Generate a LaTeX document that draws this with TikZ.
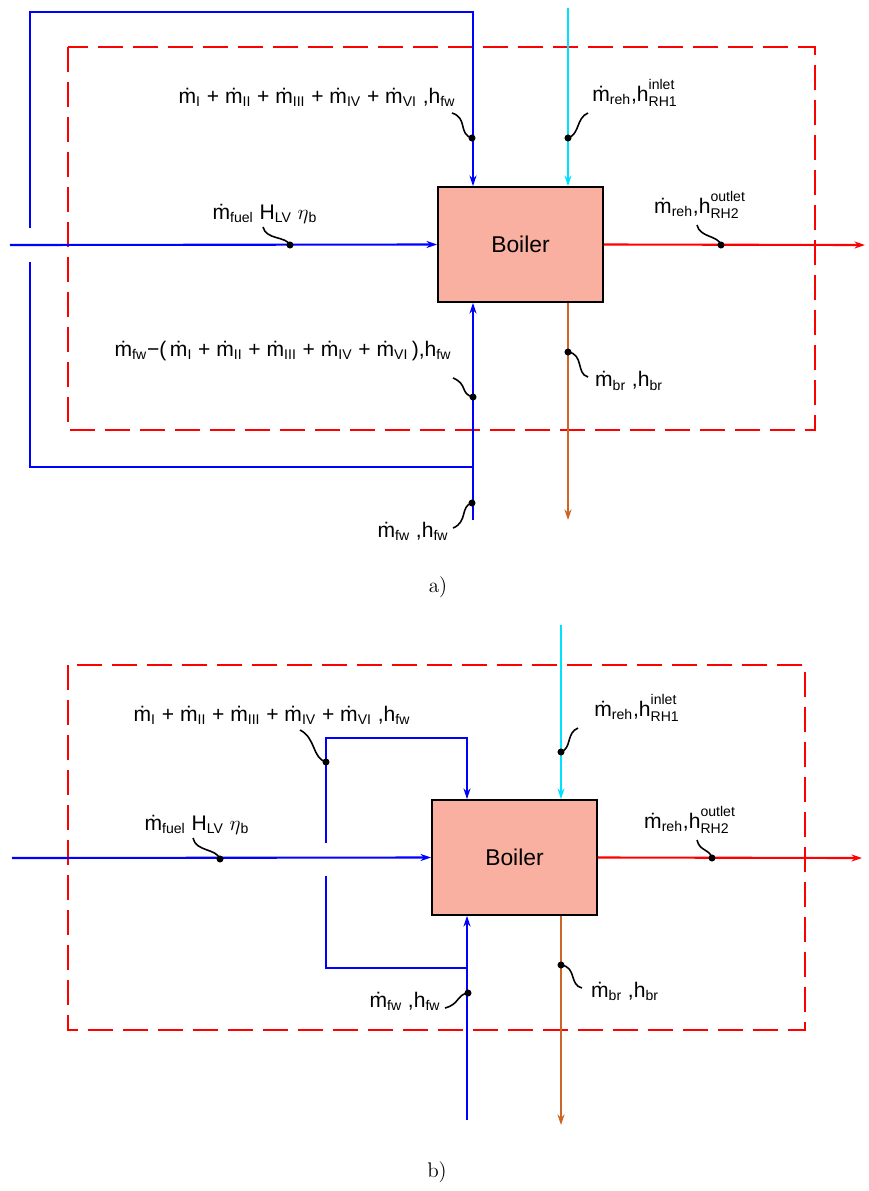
\documentclass[tikz,border=0pt]{standalone}
\usepackage{fontspec}
\usetikzlibrary{arrows.meta}
\newfontfamily\lblfont{Liberation Sans}
\newcommand\lowi[1]{\ensuremath{_{\mbox{\fontsize{8}{9}\selectfont #1}}}}
\newcommand\lowhi[2]{\ensuremath{^{\raisebox{2pt}{\fontsize{8}{9}\selectfont #1}}_{\mbox{\fontsize{8}{9}\selectfont #2}}}}
\newcommand\mflow[1]{\.{m}\lowi{#1}}
\definecolor{boilerfill}{RGB}{249,176,160}
\definecolor{brine}{RGB}{205,100,40}
\definecolor{reheat}{RGB}{0,225,255}

\begin{document}
\begin{tikzpicture}[x=0.02cm, y=-0.02cm, >={Stealth[length=6pt,width=4pt]},
  flow/.style={line width=1.2pt, ->},
  fw/.style={flow, blue},
  rhin/.style={flow, reheat},
  rhout/.style={flow, red},
  blow/.style={flow, brine},
  envelope/.style={red, line width=1.2pt, dash pattern=on 0.5cm off 0.2cm},
  boiler/.style={draw, fill=boilerfill, line width=1.1pt, minimum width=3.3cm,
    minimum height=2.3cm, font=\lblfont\fontsize{13}{15}\selectfont},
  lbl/.style={font=\lblfont\fontsize{12}{14}\selectfont, inner sep=0pt},
  leader/.style={black, line width=0.9pt},
  caption/.style={font=\fontsize{12}{14}\selectfont}]
  \useasboundingbox (0,0) rectangle (869,1191);

  % a) feed water split outside the boundary
  \draw[envelope] (68,47) rectangle (815,430);
  \node[boiler] (boilA) at (520.5,244.5) {Boiler};
  \coordinate (fwinA) at (473,520);
  \coordinate (splitA) at (473,467);
  \coordinate (gapLoA) at (30,262);
  \coordinate (gapHiA) at (30,228);
  \coordinate (cornerA) at (30,12);
  \coordinate (fuelA) at (10,245);
  \coordinate (rhinA) at (568,8);
  \coordinate (rhoutA) at (865,245);
  \coordinate (brA) at (568,520);
  \draw[fw] (fwinA) -- (fwinA |- boilA.south);
  \draw[fw,-] (splitA) -| (gapLoA);
  \draw[fw] (gapHiA) -- (cornerA) -| (fwinA |- boilA.north);
  \draw[fw] (fuelA) -- (boilA.west);
  \draw[rhin] (rhinA) -- (rhinA |- boilA.north);
  \draw[rhout] (boilA.east) -- (rhoutA);
  \draw[blow] (brA |- boilA.south) -- (brA);

  \node[lbl] (sumA) at (317,97) {\mflow{I} + \mflow{II} + \mflow{III} + \mflow{IV} + \mflow{VI} ,h\lowi{fw}};
  \draw[leader] (452,113) .. controls (468,118) and (458,134) .. (472,138);
  \fill (472,138) circle (2pt);
  \node[lbl] (rhinlblA) at (635,93) {\mflow{reh},h\lowhi{inlet}{RH1}};
  \draw[leader] (588,113) .. controls (576,118) and (580,134) .. (568,138);
  \fill (568,138) circle (2pt);
  \node[lbl] (fuellblA) at (265,214) {\mflow{fuel} H\lowi{LV} $\eta$\lowi{b}};
  \draw[leader] (263,227) .. controls (266,240) and (286,236) .. (290,245);
  \fill (290,245) circle (2pt);
  \node[lbl] (rhoutlblA) at (700,205) {\mflow{reh},h\lowhi{outlet}{RH2}};
  \draw[leader] (697,225) .. controls (700,238) and (718,235) .. (721,245);
  \fill (721,245) circle (2pt);
  \node[lbl] (restA) at (283,351) {\mflow{fw}−(\,\mflow{I} + \mflow{II} + \mflow{III} + \mflow{IV} + \mflow{VI}\,),h\lowi{fw}};
  \draw[leader] (453,378) .. controls (468,384) and (460,394) .. (473,397);
  \fill (473,397) circle (2pt);
  \node[lbl] (brlblA) at (629,381) {\mflow{br} ,h\lowi{br}};
  \draw[leader] (568,352) .. controls (584,354) and (576,374) .. (588,377);
  \fill (568,352) circle (2pt);
  \node[lbl] (fwlblA) at (413,531) {\mflow{fw} ,h\lowi{fw}};
  \draw[leader] (453,528) .. controls (468,522) and (460,506) .. (472,503);
  \fill (472,503) circle (2pt);
  \node[caption] (capA) at (438,587) {a)};

  % b) feed water split inside the boundary
  \draw[envelope] (68,665) rectangle (805,1030);
  \node[boiler] (boilB) at (514.5,857.5) {Boiler};
  \coordinate (fwinB) at (467,1120);
  \coordinate (splitB) at (467,968);
  \coordinate (gapLoB) at (326,876);
  \coordinate (gapHiB) at (326,843);
  \coordinate (cornerB) at (326,738);
  \coordinate (fuelB) at (12,858);
  \coordinate (rhinB) at (561,625);
  \coordinate (rhoutB) at (862,858);
  \coordinate (brB) at (561,1125);
  \draw[fw] (fwinB) -- (fwinB |- boilB.south);
  \draw[fw,-] (splitB) -| (gapLoB);
  \draw[fw] (gapHiB) -- (cornerB) -| (fwinB |- boilB.north);
  \draw[fw] (fuelB) -- (boilB.west);
  \draw[rhin] (rhinB) -- (rhinB |- boilB.north);
  \draw[rhout] (boilB.east) -- (rhoutB);
  \draw[blow] (brB |- boilB.south) -- (brB);

  \node[lbl] (sumB) at (272,715) {\mflow{I} + \mflow{II} + \mflow{III} + \mflow{IV} + \mflow{VI} ,h\lowi{fw}};
  \draw[leader] (300,730) .. controls (316,738) and (312,758) .. (326,762);
  \fill (326,762) circle (2pt);
  \node[lbl] (rhinlblB) at (637,708) {\mflow{reh},h\lowhi{inlet}{RH1}};
  \draw[leader] (578,728) .. controls (566,733) and (572,748) .. (561,752);
  \fill (561,752) circle (2pt);
  \node[lbl] (fuellblB) at (197,825) {\mflow{fuel} H\lowi{LV} $\eta$\lowi{b}};
  \draw[leader] (193,838) .. controls (196,852) and (216,848) .. (220,859);
  \fill (220,859) circle (2pt);
  \node[lbl] (rhoutlblB) at (690,820) {\mflow{reh},h\lowhi{outlet}{RH2}};
  \draw[leader] (697,840) .. controls (700,852) and (709,848) .. (712,858);
  \fill (712,858) circle (2pt);
  \node[lbl] (brlblB) at (625,991) {\mflow{br} ,h\lowi{br}};
  \draw[leader] (561,965) .. controls (577,967) and (569,985) .. (582,988);
  \fill (561,965) circle (2pt);
  \node[lbl] (fwlblB) at (405,1001) {\mflow{fw} ,h\lowi{fw}};
  \draw[leader] (445,1008) .. controls (460,1004) and (456,995) .. (468,993);
  \fill (468,993) circle (2pt);
  \node[caption] (capB) at (437,1172) {b)};
\end{tikzpicture}
\end{document}
